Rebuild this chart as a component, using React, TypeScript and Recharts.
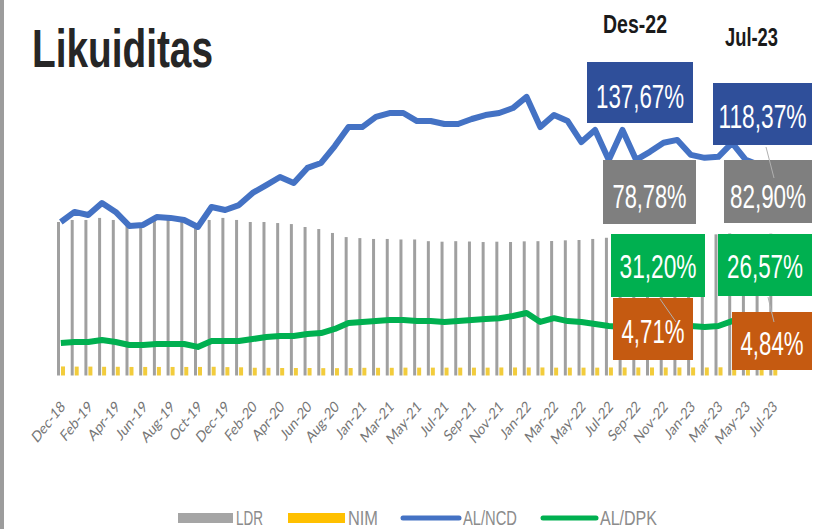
import React from "react";
import { ComposedChart, Bar, Line, XAxis, YAxis, Legend } from "recharts";

// monthly points; one year-end point stands in for the gap after Aug-20
const months = [
  "Dec-18",
  "Jan-19", "Feb-19", "Mar-19", "Apr-19", "May-19", "Jun-19", "Jul-19", "Aug-19", "Sep-19", "Oct-19", "Nov-19", "Dec-19",
  "Jan-20", "Feb-20", "Mar-20", "Apr-20", "May-20", "Jun-20", "Jul-20", "Aug-20", "Dec-20",
  "Jan-21", "Feb-21", "Mar-21", "Apr-21", "May-21", "Jun-21", "Jul-21", "Aug-21", "Sep-21", "Oct-21", "Nov-21", "Dec-21",
  "Jan-22", "Feb-22", "Mar-22", "Apr-22", "May-22", "Jun-22", "Jul-22", "Aug-22", "Sep-22", "Oct-22", "Nov-22", "Dec-22",
  "Jan-23", "Feb-23", "Mar-23", "Apr-23", "May-23", "Jun-23", "Jul-23",
];

const ldr = [
  89.7, 90.9, 90.9, 92.1, 90.9, 87.5, 88.0, 91.0, 91.0, 90.0,
  87.0, 90.9, 92.1, 90.9, 89.7, 89.7, 89.1, 88.5, 86.8, 85.6,
  83.3, 80.9, 80.3, 79.8, 79.8, 79.5, 79.5, 78.5, 78.2, 78.5,
  78.3, 78.0, 78.2, 78.0, 78.4, 78.5, 78.6, 79.0, 79.2, 79.8,
  80.5, 80.0, 79.3, 79.0, 78.9, 78.78, 79.5, 81.5, 82.5, 83.0,
  82.6, 82.7, 82.9,
];

const nim = [
  5.3, 5.2, 5.2, 5.1, 5.1, 5.0, 5.0, 5.0, 5.0, 5.0,
  5.0, 5.1, 4.9, 4.8, 4.6, 4.5, 4.4, 4.4, 4.4, 4.3,
  4.3, 4.4, 4.5, 4.5, 4.5, 4.6, 4.6, 4.6, 4.6, 4.6,
  4.6, 4.6, 4.7, 4.7, 4.7, 4.7, 4.6, 4.6, 4.6, 4.6,
  4.7, 4.7, 4.7, 4.7, 4.7, 4.71, 4.7, 4.7, 4.8, 4.8,
  4.8, 4.8, 4.84,
];

const alNcd = [
  89.7, 95.6, 93.8, 100.8, 95.6, 87.4, 88.0, 92.6, 92.1, 90.9,
  86.8, 98.5, 96.7, 99.6, 106.7, 111.3, 116.0, 112.5, 121.3, 124.2,
  134.1, 145.2, 145.2, 151.1, 153.4, 153.4, 148.7, 148.7, 147.0, 147.0,
  149.9, 152.2, 153.4, 156.3, 162.8, 145.2, 152.2, 148.7, 136.4, 143.5,
  126.0, 143.5, 126.0, 130.7, 136.0, 137.67, 128.9, 127.2, 127.8, 136.0,
  126.0, 123.0, 118.37,
];

const alDpk = [
  19.0, 19.6, 19.6, 20.7, 19.6, 17.8, 17.8, 18.4, 18.4, 18.4,
  16.7, 20.2, 20.2, 20.2, 21.3, 22.5, 23.1, 23.1, 24.3, 24.8,
  27.2, 30.7, 31.3, 31.8, 32.4, 32.4, 31.8, 31.8, 31.3, 31.8,
  32.4, 33.0, 33.5, 34.8, 36.5, 31.3, 33.5, 31.8, 31.3, 30.1,
  28.9, 28.3, 28.3, 28.9, 30.7, 31.2, 28.9, 28.3, 28.9, 31.8,
  30.1, 27.5, 26.57,
];

// value boxes: [text, fill, x, y, w, h, text baseline, text width]
const callouts: [string, string, number, number, number, number, number, number][] = [
  ["137,67%", "#2f4f9a", 587, 62, 106, 61, 108, 88],
  ["118,37%", "#2f4f9a", 713, 83, 99, 62, 128, 88],
  ["78,78%", "#7f7f7f", 603, 160, 93, 64, 208, 74],
  ["82,90%", "#7f7f7f", 724, 160, 88, 63, 208, 76],
  ["31,20%", "#00b050", 611, 234, 94, 63, 278, 77],
  ["26,57%", "#00b050", 718, 234, 94, 62, 278, 76],
  ["4,71%", "#c55a11", 613, 298, 80, 62, 343, 63],
  ["4,84%", "#c55a11", 732, 312, 80, 58, 355, 63],
];

const data = months.map((m, i) => ({
  month: m,
  ldr: ldr[i],
  nim: nim[i],
  alNcd: alNcd[i],
  alDpk: alDpk[i],
}));

const font = "'Liberation Sans', Arial, sans-serif";

// the source picture is stretched vertically, so text gets a y-scale
function TallText(props: any) {
  const { x, y, w, fs, sy, fill, bold, children } = props;
  return (
    <text
      transform={`translate(${x},${y}) scale(1,${sy})`}
      fontFamily={font}
      fontWeight={bold ? "bold" : "normal"}
      fontSize={fs}
      fill={fill}
      textLength={w}
      lengthAdjust="spacingAndGlyphs"
    >
      {children}
    </text>
  );
}

function MonthTick(props: any) {
  const { x, y, payload } = props;
  return (
    <g transform={`translate(${x + 5},${y + 32}) scale(1,1.25)`}>
      <text
        textAnchor="end"
        transform="rotate(-45)"
        fontFamily="Lato, sans-serif"
        fontSize={12.5}
        fill="#767676"
      >
        {payload.value}
      </text>
    </g>
  );
}

function renderLegend() {
  const grey = "#8c8c8c";
  return (
    <svg width={813} height={28} style={{ display: "block" }}>
      <rect x={178} y={12} width={55} height={10} fill="#a5a5a5" />
      <TallText x={236} y={23.5} w={27} fs={14} sy={1.45} fill={grey}>LDR</TallText>
      <rect x={288} y={12} width={57} height={10} fill="#ffc000" />
      <TallText x={348} y={23.5} w={30} fs={14} sy={1.45} fill={grey}>NIM</TallText>
      <line x1={403} y1={17} x2={459} y2={17} stroke="#4472c4" strokeWidth={5} strokeLinecap="round" />
      <TallText x={463} y={23.5} w={54} fs={14} sy={1.45} fill={grey}>AL/NCD</TallText>
      <line x1={543} y1={17} x2={596} y2={17} stroke="#00b050" strokeWidth={5} strokeLinecap="round" />
      <TallText x={600} y={23.5} w={57} fs={14} sy={1.45} fill={grey}>AL/DPK</TallText>
    </svg>
  );
}

export default function App() {
  return (
    <div style={{ position: "absolute", left: 0, top: 0, width: 813, height: 529, background: "#fff", overflow: "hidden" }}>
      <div style={{ position: "absolute", left: 0, top: 0, width: 4, height: 529, background: "#9c9c9c" }} />
      <ComposedChart
        width={813}
        height={529}
        data={data}
        margin={{ top: 67.5, right: 33, bottom: 0, left: 54 }}
        barGap={1}
      >
        <XAxis
          dataKey="month"
          interval={1}
          tickLine={false}
          axisLine={false}
          tickSize={0}
          tickMargin={0}
          height={125.5}
          tick={<MonthTick />}
        />
        <YAxis hide domain={[0, 180]} />
        <Legend
          verticalAlign="bottom"
          height={28}
          content={renderLegend}
          wrapperStyle={{ left: 0, width: 813, bottom: 0, height: 28 }}
        />
        <Bar dataKey="ldr" name="LDR" fill="#a0a0a0" barSize={3} isAnimationActive={false} />
        <Bar dataKey="nim" name="NIM" fill="#f2cc3c" barSize={4} isAnimationActive={false} />
        <Line dataKey="alNcd" name="AL/NCD" stroke="#4472c4" strokeWidth={6} dot={false} strokeLinejoin="round" isAnimationActive={false} />
        <Line dataKey="alDpk" name="AL/DPK" stroke="#00b050" strokeWidth={6} dot={false} strokeLinejoin="round" isAnimationActive={false} />
      </ComposedChart>
      <svg width={813} height={529} style={{ position: "absolute", left: 0, top: 0, pointerEvents: "none" }}>
        <TallText x={32} y={67} w={181} fs={38.8} sy={1.4} fill="#262626" bold>Likuiditas</TallText>
        <TallText x={603} y={33} w={64} fs={19.5} sy={1.3} fill="#1a1a1a" bold>Des-22</TallText>
        <TallText x={725} y={46} w={53} fs={18.3} sy={1.37} fill="#1a1a1a" bold>Jul-23</TallText>
        {callouts.map(([label, fill, x, y, w, h, base, tw]) => (
          <g key={label}>
            <rect x={x} y={y} width={w} height={h} fill={fill} />
            <TallText x={x + w / 2 - tw / 2} y={base} w={tw} fs={22.3} sy={1.5} fill="#fff">
              {label}
            </TallText>
          </g>
        ))}
        <line x1={660} y1={299} x2={676} y2={322} stroke="#b0b0b0" strokeWidth={1} />
        <line x1={766} y1={147} x2={774} y2={178} stroke="#b0b0b0" strokeWidth={1} />
        <line x1={768} y1={297} x2={774} y2={322} stroke="#b0b0b0" strokeWidth={1} />
      </svg>
    </div>
  );
}
